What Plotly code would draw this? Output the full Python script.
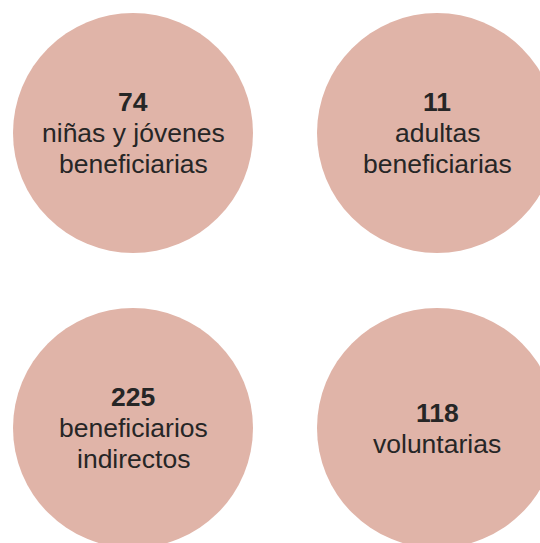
import plotly.graph_objects as go

# Data
values = [74, 11, 225, 118]
labels = [
    ["niñas y jóvenes", "beneficiarias"],
    ["adultas", "beneficiarias"],
    ["beneficiarios", "indirectos"],
    ["voluntarias"],
]
cols = [0, 1, 0, 1]
rows = [0, 0, 1, 1]

CIRCLE_COLOR = "#e0b4a8"
TEXT_COLOR = "#262626"
FONT = "Liberation Sans, Arial, Helvetica, sans-serif"
FS = 26.5
LINE = 31

fig = go.Figure()
fig.add_trace(go.Scatter(
    x=cols, y=rows, mode="markers",
    marker=dict(size=240, color=CIRCLE_COLOR, line=dict(width=0)),
    hoverinfo="skip", showlegend=False,
))

annotations = []
for v, lab, c, r in zip(values, labels, cols, rows):
    lines = [f"<b>{v}</b>"] + lab
    n = len(lines)
    for i, t in enumerate(lines):
        off = (i - (n - 1) / 2) * LINE
        annotations.append(dict(
            x=c, y=r, xref="x", yref="y", text=t, showarrow=False,
            xanchor="center", yanchor="middle", yshift=-off,
            font=dict(family=FONT, size=FS, color=TEXT_COLOR),
        ))

fig.update_layout(
    width=540, height=543,
    margin=dict(l=0, r=0, t=0, b=0),
    paper_bgcolor="white", plot_bgcolor="white",
    xaxis=dict(range=[-133 / 304, 407 / 304], visible=False, fixedrange=True),
    yaxis=dict(range=[(543 - 133) / 295, -133 / 295], visible=False, fixedrange=True),
    annotations=annotations,
)

fig.write_html(
    "out.html",
    config={"displayModeBar": False},
    post_script="document.body.style.margin='0';document.body.style.overflow='hidden';",
)
